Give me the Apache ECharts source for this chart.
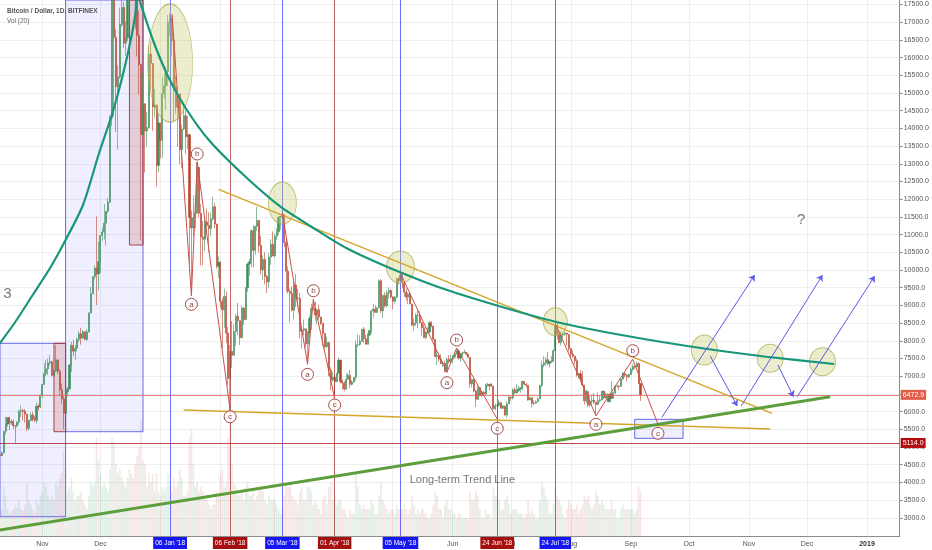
<!DOCTYPE html>
<html><head><meta charset="utf-8">
<script src="https://cdn.jsdelivr.net/npm/echarts@6/dist/echarts.min.js"></script>
<style>html,body{margin:0;padding:0;background:#fff}#c{width:932px;height:550px}</style>
</head><body><div id="c"></div>
<script>
// ---------- DATA (daily rows: [open, high, low, close, volume(k)]) ----------
const oct17 = [[4782,4922,4726,4754,28],[4754,4880,4752,4830,30],[4830,5447,4830,5447,55],[5447,5857,5348,5647,45],[5647,5837,5575,5831,30],[5831,5852,5478,5679,25],[5679,5786,5623,5725,28],[5725,5776,5508,5605,30],[5605,5605,5120,5590,35],[5590,5727,5558,5708,32],[5708,6061,5629,6011,40],[6011,6171,5850,6031,30],[6031,6073,5748,6008,28],[6008,6075,5689,5930,35],[5930,5935,5450,5527,60],[5527,5767,5469,5750,40],[5750,5971,5734,5904,35],[5904,5991,5720,5780,30],[5780,5868,5698,5753,25],[5753,6256,5665,6153,40],[6153,6214,6030,6130,35],[6130,6470,6103,6468,45]];
const nov17 = [[6468,6770,6377,6767,50],[6767,7367,6758,7078,60],[7078,7461,7002,7207,55],[7207,7492,7031,7379,45],[7379,7601,7300,7407,40],[7407,7445,7000,7022,45],[7022,7207,6960,7144,40],[7144,7880,7114,7459,60],[7459,7480,7056,7143,55],[7143,7199,6439,6618,65],[6618,6796,6225,6357,70],[6357,6433,5507,5950,95],[5950,6626,5817,6559,75],[6559,6696,6424,6635,50],[6635,7330,6634,7315,55],[7315,7968,7123,7871,65],[7871,8022,7560,7708,50],[7708,7883,7461,7790,40],[7790,8101,7694,8036,45],[8036,8267,7963,8200,45],[8200,8371,7890,8071,50],[8071,8300,8050,8253,40],[8253,8267,8038,8038,35],[8038,8336,8000,8253,30],[8253,8790,8226,8790,45],[8790,9523,8775,9330,60],[9330,9818,9320,9818,55],[9818,10125,9736,10058,60],[10058,11517,9009,9888,110],[9888,10801,9422,10233,85]];
const dec17 = [[10233,10975,9914,10975,70],[10975,11190,10830,11075,55],[11075,11858,10863,11323,60],[11323,11657,10690,11657,55],[11657,12032,11604,11917,50],[11917,14369,11900,14292,75],[14292,17899,14058,17899,110],[17899,18353,14336,16569,105],[16569,16800,13906,15178,80],[15178,15782,13402,15455,70],[15455,17413,15402,16937,75],[16937,17782,16869,17415,65],[17415,17567,16274,16408,60],[16408,17035,16056,16564,55],[16564,18154,16461,17706,65],[17706,19717,17515,19497,75],[19497,20089,18750,19140,70],[19140,19221,18145,19114,65],[19114,19121,16812,17776,80],[17776,17935,16037,16624,90],[16624,17323,14962,15802,100],[15802,15824,10834,13831,130],[13831,15552,13800,14699,85],[14699,14699,12751,13925,80],[13925,14468,13481,14026,55],[14026,16351,14000,16099,70],[16099,16460,15100,15838,60],[15838,15838,13926,14606,70],[14606,15107,14307,14656,50],[14656,14681,12350,12952,70],[12952,14377,12755,14156,50]];
const jan18 = [[14156,14156,13154,13657,45],[13657,15444,13163,14982,55],[14982,15572,14844,15201,50],[15201,15739,14522,15599,55],[15599,17200,15202,17000,70],[17000,17250,16600,17100,55],[17100,17180,16056,16477,50],[16477,16537,14208,15170,65],[15170,15497,14424,14595,55],[14595,14973,13475,14973,60],[14973,14979,12984,13405,75],[13405,14109,12877,13980,65],[13980,14659,13954,14360,45],[14360,14511,13268,13772,45],[13772,14355,13417,13819,50],[13819,13843,10194,11490,110],[11490,11678,9402,11188,120],[11188,12107,10942,11474,80],[11474,11992,11180,11607,55],[11607,13046,11578,12899,60],[12899,12900,11490,11600,50],[11600,11860,10126,10931,55],[10931,11385,10129,10869,50],[10869,11422,10542,11359,45],[11359,11737,11074,11259,40],[11259,11634,10506,11171,35],[11171,11618,10950,11441,30],[11441,12072,11400,11787,35],[11787,11875,11179,11296,35],[11296,11307,10036,10106,50],[10106,10381,9777,10221,45]];
const feb18 = [[10221,10244,8938,9114,70],[9114,9200,7796,8870,75],[8870,9473,8364,9251,55],[9251,9400,7939,8218,60],[8218,8391,6756,6937,110],[6937,7878,6000,7701,130],[7701,8558,7236,7592,80],[7592,8469,7583,8260,60],[8260,8749,7860,8696,55],[8696,9065,8162,8569,45],[8569,8569,7884,8085,45],[8085,8985,8075,8927,50],[8927,8944,8451,8599,40],[8599,9518,8599,9495,55],[9495,10212,9383,10167,60],[10167,10324,9824,10234,45],[10234,11139,10081,11113,45],[11113,11274,10080,10552,50],[10552,11250,10434,11226,40],[11226,11786,11101,11404,45],[11404,11404,10493,10691,55],[10691,10962,9880,10005,55],[10005,10417,9722,10301,50],[10301,10501,9600,9813,40],[9813,9860,9350,9664,35],[9664,10475,9501,10366,45],[10366,10871,10140,10725,40],[10725,11089,10393,10397,40]];
const mar18 = [[10397,11035,10352,10951,40],[10951,11189,10850,11086,35],[11086,11528,11002,11489,30],[11489,11512,11136,11512,25],[11512,11711,11443,11573,30],[11573,11574,10649,10780,45],[10780,10900,9394,9965,60],[9965,10099,9336,9395,55],[9395,9466,8513,9338,60],[9338,9531,8828,8866,45],[8866,9711,8607,9578,40],[9578,9889,8958,9205,40],[9205,9470,8958,9194,35],[9194,9355,8068,8269,50],[8269,8421,7783,8300,55],[8300,8603,8162,8338,40],[8338,8346,7812,7916,40],[7916,8275,7322,8223,55],[8223,8708,8094,8630,55],[8630,9050,8304,8913,50],[8913,9177,8846,8929,35],[8929,9100,8564,8728,40],[8728,8907,8462,8879,35],[8879,9024,8600,8669,30],[8669,8682,8444,8496,25],[8496,8498,7860,8209,40],[8209,8215,7787,7833,45],[7833,8109,7811,7954,35],[7954,7967,7000,7165,55],[7165,7254,6605,6890,60],[6890,7112,6843,6973,40]];
const apr18 = [[6973,7049,6430,6844,45],[6844,7095,6833,7083,35],[7083,7530,7072,7456,40],[7456,7457,6793,6853,40],[6853,6903,6619,6811,30],[6811,6857,6575,6636,30],[6636,7070,6625,6911,25],[6911,7096,6900,7023,20],[7023,7178,6662,6770,30],[6770,6892,6731,6834,25],[6834,6968,6818,6968,25],[6968,8012,6881,7889,70],[7889,8183,7825,7895,55],[7895,8161,7856,7986,35],[7986,8329,7980,8329,30],[8329,8392,7937,8058,35],[8058,8172,7895,7902,30],[7902,8218,7900,8163,30],[8163,8294,8134,8294,30],[8294,8876,8208,8845,40],[8845,9035,8651,8895,35],[8895,9001,8797,8802,25],[8802,8958,8790,8930,25],[8930,9732,8930,9697,45],[9697,9745,8787,8845,60],[8845,9307,8652,9281,40],[9281,9371,8938,8987,35],[8987,9433,8945,9348,30],[9348,9508,9196,9419,25],[9419,9456,9187,9240,30]];
const may18 = [[9240,9255,8891,9119,30],[9119,9262,9056,9235,25],[9235,9790,9200,9743,35],[9743,9798,9581,9700,30],[9700,9964,9695,9858,30],[9858,9939,9480,9654,30],[9654,9658,9245,9373,35],[9373,9474,9133,9234,30],[9234,9370,9037,9325,25],[9325,9382,9031,9043,30],[9043,9043,8427,8441,45],[8441,8638,8283,8504,35],[8504,8779,8413,8723,25],[8723,8881,8362,8716,30],[8716,8836,8505,8510,25],[8510,8514,8143,8368,30],[8368,8463,8074,8094,30],[8094,8275,8045,8250,25],[8250,8374,8200,8248,20],[8248,8569,8201,8513,20],[8513,8557,8381,8418,25],[8418,8422,8010,8041,35],[8041,8041,7533,7557,50],[7557,7734,7316,7587,45],[7587,7659,7412,7481,30],[7481,7617,7346,7355,30],[7355,7421,7265,7368,20],[7368,7437,7112,7136,35],[7136,7534,7093,7473,40],[7473,7597,7355,7406,30],[7406,7608,7405,7494,30]];
const jun18 = [[7494,7598,7361,7541,25],[7541,7695,7500,7643,25],[7643,7752,7613,7720,20],[7720,7754,7467,7514,25],[7514,7633,7405,7633,25],[7633,7697,7533,7653,20],[7653,7750,7652,7678,20],[7678,7682,7579,7624,20],[7624,7669,7524,7531,20],[7531,7531,6670,6786,50],[6786,6924,6681,6906,40],[6906,6922,6546,6582,40],[6582,6613,6133,6349,50],[6349,6720,6333,6675,45],[6675,6681,6434,6456,30],[6456,6589,6400,6550,20],[6550,6590,6493,6500,20],[6500,6791,6452,6760,30],[6760,6815,6708,6729,25],[6729,6783,6584,6770,25],[6770,6806,6711,6715,20],[6715,6735,6059,6083,55],[6083,6225,6034,6163,45],[6163,6226,5786,6174,45],[6174,6338,6135,6250,40],[6250,6275,6091,6094,30],[6094,6190,6061,6158,30],[6158,6164,5884,5904,40],[5904,6297,5827,6218,45],[6218,6465,6218,6404,35]];
const jul18 = [[6404,6432,6304,6385,25],[6385,6659,6343,6614,30],[6614,6681,6500,6529,30],[6529,6775,6500,6597,30],[6597,6736,6553,6639,25],[6639,6684,6533,6673,25],[6673,6861,6600,6857,25],[6857,6857,6750,6773,20],[6773,6812,6682,6741,25],[6741,6741,6311,6329,40],[6329,6404,6320,6394,25],[6394,6394,6116,6228,30],[6228,6321,6176,6239,25],[6239,6318,6222,6276,20],[6276,6405,6276,6359,20],[6359,6749,6358,6741,40],[6741,7441,6683,7321,60],[7321,7562,7251,7370,55],[7370,7540,7282,7466,45],[7466,7680,7311,7354,40],[7354,7431,7246,7419,25],[7419,7565,7376,7419,25],[7419,7758,7400,7718,35],[7718,8462,7713,8424,55],[8424,8485,8041,8182,45],[8182,8290,7936,7951,40],[7951,8266,7871,8165,35],[8165,8223,8067,8193,25],[8193,8274,8137,8218,20],[8218,8223,7867,8180,30],[8180,8180,7698,7780,40]];
const aug18 = [[7780,7780,7520,7624,35],[7624,7727,7523,7567,30],[7567,7567,7329,7434,30],[7434,7495,6985,7033,35],[7033,7087,6940,7068,25],[7068,7166,6890,6951,30],[6951,7150,6751,6753,35],[6753,6753,6197,6305,45],[6305,6625,6236,6568,40],[6568,6568,6123,6184,45],[6184,6454,6130,6295,35],[6295,6480,6213,6323,30],[6323,6526,6208,6262,35],[6262,6262,5885,6200,50],[6200,6547,6183,6308,45],[6308,6450,6259,6335,35],[6335,6581,6315,6581,40],[6581,6587,6352,6387,35],[6387,6533,6363,6490,30],[6490,6513,6272,6276,30],[6276,6507,6276,6488,30],[6488,6856,6361,6376,40],[6376,6570,6370,6534,30],[6534,6740,6493,6719,30],[6719,6759,6682,6720,20],[6720,6739,6607,6710,20],[6710,6920,6700,6919,30],[6919,7117,6895,7072,35],[7072,7132,6968,7026,30],[7026,7046,6849,6981,30],[6981,7075,6939,7047,30]];
const sep18 = [[7047,7250,7035,7189,30],[7189,7344,7134,7273,30],[7273,7319,7210,7261,25],[7261,7411,7247,7361,30],[7361,7388,6777,6793,55],[6793,6793,6300,6472.9,50]];
const candleMonths = [['2017-10-10',oct17],['2017-11-01',nov17],['2017-12-01',dec17],['2018-01-01',jan18],['2018-02-01',feb18],['2018-03-01',mar18],['2018-04-01',apr18],['2018-05-01',may18],['2018-06-01',jun18],['2018-07-01',jul18],['2018-08-01',aug18],['2018-09-01',sep18]];

// axis ticks
const monthTicks = ['2017-11-01','2017-12-01','2018-01-01','2018-02-01','2018-03-01','2018-04-01','2018-05-01','2018-06-01','2018-07-01','2018-08-01','2018-09-01','2018-10-01','2018-11-01','2018-12-01','2019-01-01'];
const monthLabels = ['Nov','Dec','2018','Feb','Mar','Apr','May','Jun','Jul','Aug','Sep','Oct','Nov','Dec','2019'];
const priceTicks = [3000,3500,4000,4500,5000,5500,6000,6500,7000,7500,8000,8500,9000,9500,10000,10500,11000,11500,12000,12500,13000,13500,14000,14500,15000,15500,16000,16500,17000,17500];

// drawings (date, price)
const markerDates = ['2018-01-06','2018-02-06','2018-03-05','2018-04-01','2018-05-05','2018-06-24','2018-07-24'];
const markerLabels = ["06 Jan '18","06 Feb '18","05 Mar '18","01 Apr '18","05 May '18","24 Jun '18","24 Jul '18"];
const markerKinds = ['blue','red','blue','red','blue','red','blue'];
const priceLines = [6472.9, 5114.0];
const tealArc = [['2017-10-10',7929],['2017-10-18',8531],['2017-10-27',9293],['2017-11-05',10056],['2017-11-13',10847],['2017-11-22',11836],['2017-11-30',13248],['2017-12-08',14576],['2017-12-15',16073],['2017-12-19',17203],['2017-12-20',17853],['2017-12-22',17486],['2017-12-28',16511],['2018-01-05',15460],['2018-01-14',14576],['2018-01-26',13672],['2018-02-13',12683],['2018-03-04',11788],['2018-03-20',11223],['2018-04-07',10621],['2018-04-28',10093],['2018-05-26',9491],['2018-06-23',9011],['2018-07-24',8539],['2018-08-30',8135],['2018-10-07',7796],['2018-11-10',7550],['2018-12-15',7344]];
const upperWedge = [['2018-01-31',12279],['2018-11-13',5949]];
const lowerWedge = [['2018-01-13',6045],['2018-11-12',5508]];
const longTermLine = [['2017-10-10',2655],['2018-12-13',6420]];
const zigzags = [
  [['2018-01-07',17230],['2018-01-17',9274],['2018-01-20',13059],['2018-02-06',6045]],
  [['2018-03-05',11600],['2018-03-18',7344],['2018-03-21',9172],['2018-04-01',6375]],
  [['2018-05-05',9906],['2018-05-29',7110],['2018-06-03',7796],['2018-06-24',5790]],
  [['2018-07-24',8494],['2018-08-14',5884],['2018-09-02',7477],['2018-09-15',5649]]
];
const waveLabels = [['2018-01-20',13277,'b'],['2018-01-17',9031,'a'],['2018-02-06',5855,'c'],['2018-03-21',9415,'b'],['2018-03-18',7053,'a'],['2018-04-01',6186,'c'],['2018-06-03',8022,'b'],['2018-05-29',6816,'a'],['2018-06-24',5528,'c'],['2018-09-02',7720,'b'],['2018-08-14',5641,'a'],['2018-09-15',5386,'c']];
const ellipseCenters = [['2018-01-06',15847],['2018-03-05',11892],['2018-05-05',10084],['2018-07-24',8539],['2018-10-09',7740],['2018-11-12',7505],['2018-12-09',7409]];
const arrows = [[['2018-09-17',5838],['2018-11-04',9858]],[['2018-10-12',7570],['2018-10-26',6158]],[['2018-10-28',6158],['2018-12-09',9858]],[['2018-11-16',7316],['2018-11-24',6420]],[['2018-11-26',6420],['2019-01-05',9830]]];
const boxes = [
  {kind:'zone', from:['2017-10-09',3031], to:['2017-11-13',7929]},
  {kind:'red',  from:['2017-11-07',5432], to:['2017-11-13',7929]},
  {kind:'zone', from:['2017-11-13',5432], to:['2017-12-23',17627]},
  {kind:'red',  from:['2017-12-16',10706], to:['2017-12-23',17627]},
  {kind:'zone', from:['2018-09-03',5245], to:['2018-09-28',5782]}
];
const notes = [['2017-10-14',9322,'3'],['2018-11-28',11412,'?'],['2018-06-06',4067,'Long-term Trend Line']];

// ---------- helpers ----------
const DAY = 86400000;
function T(s){const p=s.split('-').map(Number);return Date.UTC(p[0],p[1]-1,p[2]);}
const NARROW = "'Liberation Sans Narrow','Arial Narrow','Liberation Sans',Arial,sans-serif";
const SANS = "'Liberation Sans',Arial,sans-serif";

const candleData=[], volData=[];
candleMonths.forEach(([start, rows])=>{
  rows.forEach((r,i)=>{
    const t=T(start)+i*DAY;
    candleData.push([t,r[0],r[3],r[2],r[1]]);
    volData.push({value:[t,r[4]], itemStyle:{color: r[3]>=r[0]?'rgba(83,160,107,0.16)':'rgba(200,80,70,0.14)'}});
  });
});
const tickTimes = monthTicks.map(T);
const X_MIN = T('2017-11-01') - 21.88*DAY;
const X_MAX = T('2017-11-01') + 442.9*DAY;
const Y_MIN = 2486, Y_MAX = 17627;

const ELLIPSE_PX = [[45,118],[28,42],[28,32],[24,28],[26,30],[26,28],[26,28]];
const BOX_STYLE = {
  zone:{color:'rgba(120,120,255,0.12)', borderColor:'rgba(80,80,230,0.85)', borderWidth:1},
  red:{color:'rgba(190,80,80,0.22)', borderColor:'rgba(160,40,40,0.85)', borderWidth:1}
};
const MARK_COL = {blue:{line:'rgba(50,50,255,0.7)', bg:'#1616f2'}, red:{line:'rgba(170,40,40,0.7)', bg:'#a50f0f'}};
const PRICE_COL = [{line:'rgba(228,110,100,0.85)', bg:'#e25c48'},{line:'rgba(180,30,30,0.8)', bg:'#b20c0c'}];

function monthLabel(v){let i=0,b=Infinity;tickTimes.forEach((t,k)=>{if(Math.abs(t-v)<b){b=Math.abs(t-v);i=k;}});const s=monthLabels[i];return s==='2019'?'{b|2019}':s;}

const chart = echarts.init(document.getElementById('c'), null, {renderer:'canvas'});
chart.setOption({
  animation:false,
  backgroundColor:'#ffffff',
  title:{text:'Bitcoin / Dollar, 1D, BITFINEX', subtext:'Vol (20)', left:2, top:3, itemGap:3,
    textStyle:{fontSize:6.5, fontWeight:'bold', color:'#555', fontFamily:SANS},
    subtextStyle:{fontSize:6.5, color:'#666', fontFamily:SANS}},
  grid:{left:0, right:25, top:0, bottom:14},
  xAxis:{type:'value', min:X_MIN, max:X_MAX, scale:true,
    axisLine:{show:true, onZero:false, lineStyle:{color:'#8c8c8c'}},
    axisTick:{show:false, customValues:tickTimes},
    axisLabel:{customValues:tickTimes, color:'#555', fontSize:7, margin:5, fontFamily:NARROW,
      formatter:monthLabel,
      rich:{b:{fontWeight:'bold', color:'#333', fontSize:7, fontFamily:NARROW}}},
    splitLine:{show:true, lineStyle:{color:'#eeeeee', width:1}}
  },
  yAxis:[{type:'value', position:'right', min:Y_MIN, max:Y_MAX, scale:true,
    axisLine:{show:true, onZero:false, lineStyle:{color:'#8c8c8c'}},
    axisTick:{show:true, length:3, customValues:priceTicks, lineStyle:{color:'#8c8c8c'}},
    axisLabel:{customValues:priceTicks, formatter:(v)=>v.toFixed(1), color:'#555', fontSize:7, margin:4, fontFamily:NARROW},
    splitLine:{show:true, lineStyle:{color:'#eeeeee'}}
  },{type:'value', min:0, max:600, show:false, splitLine:{show:false}}],
  series:[
    {type:'bar', name:'vol', yAxisIndex:1, data:volData, barWidth:1.7, z:1, silent:true},
    {type:'line', name:'drawings', data:[], z:2, silent:true,
      markArea:{silent:true, data: boxes.map(b=>[{coord:[T(b.from[0]),b.from[1]], itemStyle:BOX_STYLE[b.kind]},{coord:[T(b.to[0]),b.to[1]]}])},
      markLine:{silent:true, symbol:'none', animation:false,
        data: markerDates.map((d,i)=>({xAxis:T(d), lineStyle:{color:MARK_COL[markerKinds[i]].line, width:1, type:'solid'},
            label:{show:true, position:'start', distance:1, formatter:markerLabels[i], color:'#fff', fontSize:6.5, fontFamily:NARROW,
              backgroundColor:MARK_COL[markerKinds[i]].bg, padding:[3,2,2,2]}}))
          .concat(priceLines.map((p,i)=>({yAxis:p, lineStyle:{color:PRICE_COL[i].line, width:1, type:'solid'},
            label:{show:true, position:'end', distance:1, formatter:p.toFixed(1), color:'#fff', fontSize:7, fontFamily:NARROW,
              backgroundColor:PRICE_COL[i].bg, padding:[2,2,1,2]}})))
      }},
    {type:'candlestick', name:'BTC', data:candleData, encode:{x:0, y:[1,2,3,4]}, barWidth:1.6, z:3,
      itemStyle:{color:'#3f8f5c', color0:'#b9452f', borderColor:'#3f8f5c', borderColor0:'#b9452f', borderWidth:0.6}},
    {type:'line', name:'arc', data:tealArc.map(p=>[T(p[0]),p[1]]), smooth:0.25, showSymbol:false, z:6,
      lineStyle:{color:'#17967a', width:2.2}},
    {type:'lines', name:'trend', coordinateSystem:'cartesian2d', z:6, symbol:'none',
      data:[
        {coords:upperWedge.map(p=>[T(p[0]),p[1]]), lineStyle:{color:'#d4a52a', width:1.5, opacity:1}},
        {coords:lowerWedge.map(p=>[T(p[0]),p[1]]), lineStyle:{color:'#d4a52a', width:1.5, opacity:1}},
        {coords:longTermLine.map(p=>[T(p[0]),p[1]]), lineStyle:{color:'#5c9e3b', width:3, opacity:1}}
      ]},
    {type:'lines', name:'waves', coordinateSystem:'cartesian2d', polyline:true, z:7, symbol:'none',
      data:zigzags.map(z=>({coords:z.map(p=>[T(p[0]),p[1]])})),
      lineStyle:{color:'#c8504a', width:1, opacity:1}},
    {type:'lines', name:'arrows', coordinateSystem:'cartesian2d', z:7, symbol:['none','arrow'], symbolSize:6,
      data:arrows.map(a=>({coords:a.map(p=>[T(p[0]),p[1]])})),
      lineStyle:{color:'#5a5ae8', width:1, opacity:1}},
    {type:'scatter', name:'circles', z:5, data:ellipseCenters.map(p=>[T(p[0]),p[1]]),
      symbol:'circle', symbolSize:(v,p)=>ELLIPSE_PX[p.dataIndex],
      itemStyle:{color:'rgba(200,205,115,0.45)', borderColor:'rgba(165,165,70,0.85)', borderWidth:1}},
    {type:'scatter', name:'abc', z:8, data:waveLabels.map(p=>({value:[T(p[0]),p[1]], name:p[2]})),
      symbol:'circle', symbolSize:12,
      itemStyle:{color:'#ffffff', borderColor:'#8e2323', borderWidth:1},
      label:{show:true, position:'inside', formatter:'{b}', color:'#6e1414', fontSize:8, fontFamily:SANS}},
    {type:'scatter', name:'notes', z:8,
      data:notes.map(p=>({value:[T(p[0]),p[1]], name:p[2], label:{fontSize: p[2].length>2?11:15}})),
      symbolSize:0,
      label:{show:true, position:'inside', formatter:'{b}', color:'#555', fontFamily:SANS, fontSize:14}}
  ]
});
</script></body></html>
